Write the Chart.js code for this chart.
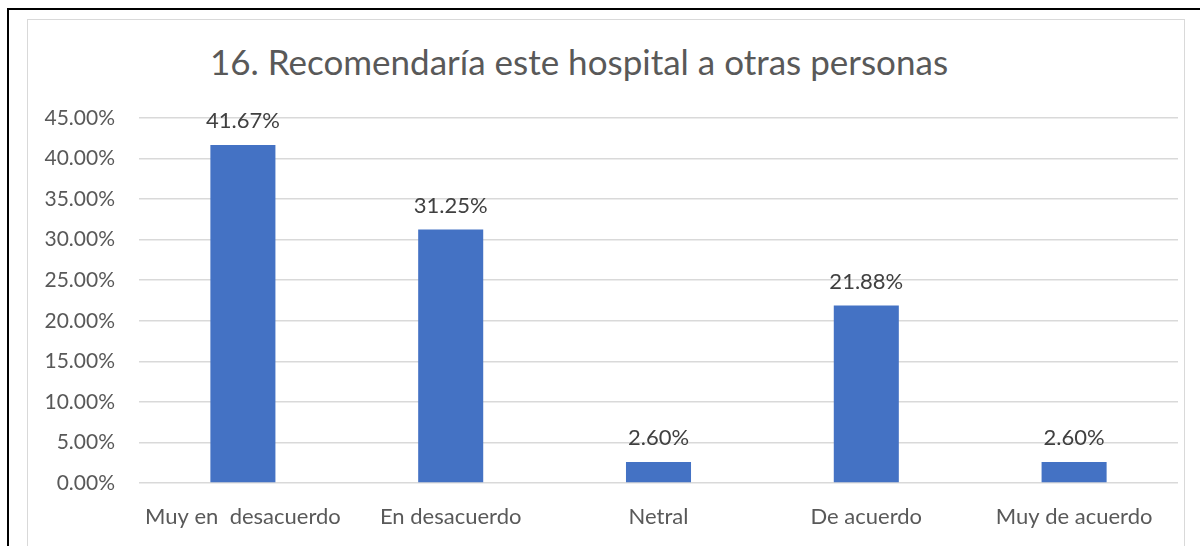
<!DOCTYPE html>
<html>
<head>
<meta charset="utf-8">
<script src="https://cdn.jsdelivr.net/npm/chart.js@4.4.1/dist/chart.umd.min.js"></script>
<style>
    html, body { margin: 0; padding: 0; background: #fff; }
    #wrap { position: relative; width: 1200px; height: 546px; overflow: hidden; }
    #outer { position: absolute; left: 7px; top: 8px; width: 1200px; height: 600px; border-left: 2px solid #000; border-top: 2px solid #000; }
    #frame { position: absolute; left: 27px; top: 19px; width: 1156px; height: 600px; border: 1.5px solid #d9d9d9; }
    #title { position: absolute; left: 0; top: 40px; width: 1158px; text-align: center; font-family: Lato, sans-serif; font-size: 35px; line-height: 42px; color: #595959; white-space: nowrap; }
    canvas { position: absolute; left: 0; top: 0; }
</style>
</head>
<body>
<div id="wrap">
    <div id="outer"></div>
    <div id="frame"></div>
    <div id="title">16. Recomendaría este hospital a otras personas</div>
    <canvas id="recChart" width="1200" height="546"></canvas>
</div>
<script>
const categories = ['Muy en  desacuerdo', 'En desacuerdo', 'Netral', 'De acuerdo', 'Muy de acuerdo'];
const percentages = [41.67, 31.25, 2.60, 21.88, 2.60];
const yTicksMax = 45;
const yTicksStep = 5;

// Draw value labels above each bar
const barLabels = {
    id: 'barLabels',
    afterDatasetsDraw(chart) {
        const ctx = chart.ctx;
        const meta = chart.getDatasetMeta(0);
        ctx.save();
        ctx.font = '22px Lato, sans-serif';
        ctx.fillStyle = '#404040';
        ctx.textAlign = 'center';
        ctx.textBaseline = 'alphabetic';
        meta.data.forEach((bar, i) => {
            ctx.fillText(percentages[i].toFixed(2) + '%', bar.x, bar.y - 17);
        });
        ctx.restore();
    }
};

const ctx = document.getElementById('recChart').getContext('2d');
new Chart(ctx, {
    type: 'bar',
    data: {
        labels: categories,
        datasets: [{
            data: percentages,
            backgroundColor: '#4472C4',
            borderWidth: 0,
            categoryPercentage: 1,
            barPercentage: 0.313
        }]
    },
    options: {
        responsive: false,
        animation: false,
        layout: { padding: { left: 20, top: 118, right: 22, bottom: 0 } },
        scales: {
            x: {
                grid: { display: false },
                border: { display: false },
                ticks: { font: { family: 'Lato', size: 22 }, color: '#595959', padding: 13, maxRotation: 0 },
                afterFit: scale => { scale.height = 63; }
            },
            y: {
                min: 0,
                max: yTicksMax,
                grid: { color: '#d9d9d9', lineWidth: 1.5, drawTicks: false },
                border: { display: false },
                ticks: {
                    stepSize: yTicksStep,
                    padding: 24,
                    font: { family: 'Lato', size: 21 },
                    color: '#595959',
                    callback: v => v.toFixed(2) + '%'
                },
                afterFit: scale => { scale.width = 119; }
            }
        },
        plugins: {
            legend: { display: false },
            tooltip: { enabled: false }
        }
    },
    plugins: [barLabels]
});
</script>
</body>
</html>
